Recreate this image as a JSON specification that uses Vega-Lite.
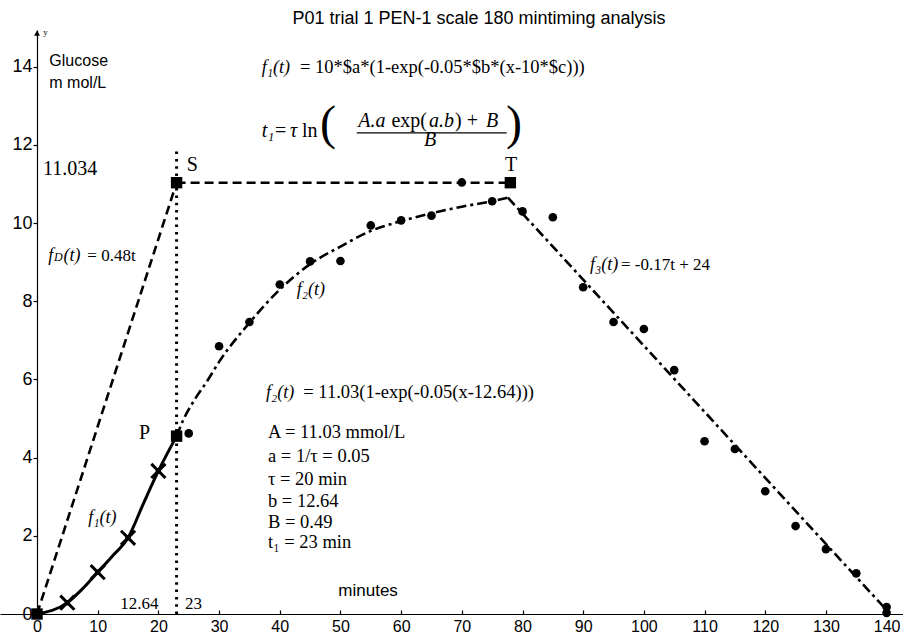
{
  "$schema": "https://vega.github.io/schema/vega-lite/v6.json",
  "width": 903,
  "height": 584,
  "autosize": {"type": "none"},
  "padding": {"left": 0, "top": 30, "right": 0, "bottom": 20},
  "background": "white",
  "config": {"view": {"stroke": null}},
  "datasets": {
    "f1curve": [
      {"t": 0, "g": 0}, {"t": 5, "g": 0.29}, {"t": 7.4, "g": 0.63}, {"t": 10, "g": 1.07}, {"t": 12.4, "g": 1.48},
      {"t": 15, "g": 1.95}, {"t": 17.6, "g": 2.85}, {"t": 20, "g": 3.66}, {"t": 23, "g": 4.55}
    ],
    "dashed": [
      {"series": "fD", "t": 0, "g": 0}, {"series": "fD", "t": 23, "g": 11.034},
      {"series": "ST", "t": 23, "g": 11.034}, {"series": "ST", "t": 78, "g": 11.034}
    ],
    "dashdot": [
      {"series": "f2", "t": 23, "g": 4.55}, {"series": "f2", "t": 24, "g": 4.93}, {"series": "f2", "t": 26, "g": 5.49},
      {"series": "f2", "t": 28, "g": 5.95}, {"series": "f2", "t": 30, "g": 6.45}, {"series": "f2", "t": 35, "g": 7.45},
      {"series": "f2", "t": 40, "g": 8.3}, {"series": "f2", "t": 45, "g": 8.95}, {"series": "f2", "t": 50, "g": 9.4},
      {"series": "f2", "t": 55, "g": 9.8}, {"series": "f2", "t": 60, "g": 10.05}, {"series": "f2", "t": 65, "g": 10.25},
      {"series": "f2", "t": 70, "g": 10.42}, {"series": "f2", "t": 75, "g": 10.56}, {"series": "f2", "t": 77.6, "g": 10.65},
      {"series": "f3", "t": 77.6, "g": 10.65}, {"series": "f3", "t": 140, "g": 0.1}
    ],
    "vline": [{"t": 23, "g": 0, "g2": 11.95}],
    "obs": [
      {"t": 25, "g": 4.62}, {"t": 30, "g": 6.85}, {"t": 35, "g": 7.47}, {"t": 40, "g": 8.43}, {"t": 45, "g": 9.02},
      {"t": 50, "g": 9.03}, {"t": 55, "g": 9.94}, {"t": 60, "g": 10.07}, {"t": 65, "g": 10.19}, {"t": 70, "g": 11.04},
      {"t": 75, "g": 10.56}, {"t": 80, "g": 10.3}, {"t": 85, "g": 10.15}, {"t": 90, "g": 8.36}, {"t": 95, "g": 7.47},
      {"t": 100, "g": 7.29}, {"t": 105, "g": 6.24}, {"t": 110, "g": 4.42}, {"t": 115, "g": 4.22}, {"t": 120, "g": 3.14},
      {"t": 125, "g": 2.25}, {"t": 130, "g": 1.66}, {"t": 135, "g": 1.04}, {"t": 140, "g": 0.18}, {"t": 140, "g": 0.03}
    ],
    "crosses": [{"t": 5, "g": 0.29}, {"t": 10, "g": 1.07}, {"t": 15, "g": 1.95}, {"t": 20, "g": 3.66}],
    "squares": [{"t": 0, "g": 0}, {"t": 23, "g": 4.55}, {"t": 23, "g": 11.034}, {"t": 78, "g": 11.034}],
    "arrow": [{"t": 0, "g": 14.86}],
    "fracbar": [{"t": 52.68, "t2": 77.39, "g": 12.31}],
    "titleText": [{"t": 72.83, "g": 15.1, "label": "P01 trial 1 PEN-1 scale 180 mintiming analysis"}],
    "bigSerif": [
      {"t": 0.99, "g": 11.24, "label": "11.034"}, {"t": 24.67, "g": 11.33, "label": "S"},
      {"t": 77.11, "g": 11.34, "label": "T"}, {"t": 16.8, "g": 4.47, "label": "P"}
    ],
    "midSerif": [
      {"t": 43.33, "g": 13.84, "label": "= 10*$a*(1-exp(-0.05*$b*(x-10*$c)))"},
      {"t": 43.88, "g": 5.53, "label": "= 11.03(1-exp(-0.05(x-12.64)))"},
      {"t": 38.06, "g": 4.49, "label": "A = 11.03 mmol/L"},
      {"t": 38.06, "g": 3.9, "label": "a = 1/τ = 0.05"},
      {"t": 38.06, "g": 3.31, "label": "τ = 20 min"},
      {"t": 38.06, "g": 2.75, "label": "b = 12.64"},
      {"t": 38.06, "g": 2.21, "label": "B = 0.49"},
      {"t": 38.06, "g": 1.7, "label": "t₁ = 23 min"}
    ],
    "smallSerif": [
      {"t": 96.23, "g": 8.8, "label": "= -0.17t + 24"}, {"t": 8.29, "g": 9.03, "label": "= 0.48t"},
      {"t": 13.73, "g": 0.14, "label": "12.64"}, {"t": 24.39, "g": 0.14, "label": "23"}
    ],
    "italicSerif": [
      {"t": 37.02, "g": 13.84, "label": "f₁(t)"}, {"t": 37.73, "g": 5.53, "label": "f₂(t)"},
      {"t": 42.79, "g": 8.17, "label": "f₂(t)"}, {"t": 8.45, "g": 2.33, "label": "f₁(t)"},
      {"t": 91.12, "g": 8.8, "label": "f₃(t)"}, {"t": 1.86, "g": 9.03, "label": "f"}, {"t": 4.37, "g": 9.03, "label": "(t)"}
    ],
    "tinyItalic": [{"t": 2.8, "g": 9.03, "label": "D"}],
    "eqItalic": [
      {"t": 37.02, "g": 12.21, "label": "t₁"}, {"t": 41.69, "g": 12.21, "label": "τ"},
      {"t": 52.94, "g": 12.46, "label": "A.a"}, {"t": 64.59, "g": 12.46, "label": "a.b"},
      {"t": 73.99, "g": 12.46, "label": "B"}, {"t": 63.77, "g": 11.97, "label": "B"}
    ],
    "eqNormal": [
      {"t": 39.22, "g": 12.21, "label": "="}, {"t": 43.66, "g": 12.21, "label": "ln"},
      {"t": 58.4, "g": 12.46, "label": "exp("}, {"t": 68.88, "g": 12.46, "label": ") +"}
    ],
    "parens": [{"t": 46.63, "g": 12.14, "label": "("}, {"t": 77.28, "g": 12.14, "label": ")"}],
    "sans": [{"t": 2.03, "g": 14.03, "label": "Glucose"}, {"t": 2.03, "g": 13.46, "label": "m mol/L"}],
    "sansBig": [{"t": 49.65, "g": 0.46, "label": "minutes"}],
    "tiny": [{"t": 1.04, "g": 14.82, "label": "y"}]
  },
  "encoding": {
    "x": {
      "field": "t", "type": "quantitative",
      "scale": {"domain": [-6.1, 142.7], "nice": false, "zero": false},
      "axis": {"values": [0, 10, 20, 30, 40, 50, 60, 70, 80, 90, 100, 110, 120, 130, 140], "title": null, "grid": false,
        "tickSize": -4, "labelPadding": 8, "labelFont": "Liberation Sans", "labelFontSize": 16, "labelColor": "black",
        "domainColor": "black", "tickColor": "black", "domainWidth": 1.2, "tickWidth": 1.2, "labelFlush": false, "labelOverlap": false}
    },
    "y": {
      "field": "g", "type": "quantitative",
      "scale": {"domain": [0, 14.94], "nice": false},
      "axis": {"values": [0, 2, 4, 6, 8, 10, 12, 14], "offset": -37, "title": null, "grid": false,
        "tickSize": 4, "labelPadding": 1, "labelFont": "Liberation Sans", "labelFontSize": 18, "labelColor": "black",
        "domainColor": "black", "tickColor": "black", "domainWidth": 1.2, "tickWidth": 1.2, "labelFlush": false, "labelOverlap": false}
    }
  },
  "layer": [
    {"data": {"name": "f1curve"}, "mark": {"type": "line", "color": "black", "strokeWidth": 3, "interpolate": "monotone"}},
    {"data": {"name": "dashed"}, "mark": {"type": "line", "color": "black", "strokeWidth": 2.6, "strokeDash": [9, 5]}, "encoding": {"detail": {"field": "series"}}},
    {"data": {"name": "dashdot"}, "mark": {"type": "line", "color": "black", "strokeWidth": 2.6, "strokeDash": [10, 4, 3, 4], "interpolate": "monotone"}, "encoding": {"detail": {"field": "series"}}},
    {"data": {"name": "vline"}, "mark": {"type": "rule", "color": "black", "strokeWidth": 3, "strokeDash": [2.5, 4.8]}, "encoding": {"y2": {"field": "g2"}}},
    {"data": {"name": "fracbar"}, "mark": {"type": "rule", "color": "black", "strokeWidth": 1.2}, "encoding": {"x2": {"field": "t2"}}},
    {"data": {"name": "obs"}, "mark": {"type": "point", "shape": "circle", "filled": true, "color": "black", "size": 75, "opacity": 1}},
    {"data": {"name": "crosses"}, "mark": {"type": "point", "shape": "M-1,-1L1,1M-1,1L1,-1", "filled": false, "stroke": "black", "strokeWidth": 3, "size": 200, "opacity": 1}},
    {"data": {"name": "crosses"}, "mark": {"type": "point", "shape": "circle", "filled": true, "color": "black", "size": 30, "opacity": 1}},
    {"data": {"name": "squares"}, "mark": {"type": "point", "shape": "square", "filled": true, "color": "black", "size": 130, "opacity": 1}},
    {"data": {"name": "arrow"}, "mark": {"type": "point", "shape": "triangle-up", "filled": true, "color": "black", "size": 35, "opacity": 1}},
    {"data": {"name": "titleText"}, "mark": {"type": "text", "font": "Liberation Sans", "fontSize": 18, "align": "center", "baseline": "alphabetic", "color": "black"}, "encoding": {"text": {"field": "label"}}},
    {"data": {"name": "bigSerif"}, "mark": {"type": "text", "font": "Liberation Serif", "fontSize": 20, "align": "left", "baseline": "alphabetic", "color": "black"}, "encoding": {"text": {"field": "label"}}},
    {"data": {"name": "midSerif"}, "mark": {"type": "text", "font": "Liberation Serif", "fontSize": 18.5, "align": "left", "baseline": "alphabetic", "color": "black"}, "encoding": {"text": {"field": "label"}}},
    {"data": {"name": "smallSerif"}, "mark": {"type": "text", "font": "Liberation Serif", "fontSize": 17, "align": "left", "baseline": "alphabetic", "color": "black"}, "encoding": {"text": {"field": "label"}}},
    {"data": {"name": "italicSerif"}, "mark": {"type": "text", "font": "Liberation Serif", "fontStyle": "italic", "fontSize": 18, "align": "left", "baseline": "alphabetic", "color": "black"}, "encoding": {"text": {"field": "label"}}},
    {"data": {"name": "tinyItalic"}, "mark": {"type": "text", "font": "Liberation Serif", "fontStyle": "italic", "fontSize": 12, "align": "left", "baseline": "alphabetic", "color": "black"}, "encoding": {"text": {"field": "label"}}},
    {"data": {"name": "eqItalic"}, "mark": {"type": "text", "font": "Liberation Serif", "fontStyle": "italic", "fontSize": 20, "align": "left", "baseline": "alphabetic", "color": "black"}, "encoding": {"text": {"field": "label"}}},
    {"data": {"name": "eqNormal"}, "mark": {"type": "text", "font": "Liberation Serif", "fontSize": 20, "align": "left", "baseline": "alphabetic", "color": "black"}, "encoding": {"text": {"field": "label"}}},
    {"data": {"name": "parens"}, "mark": {"type": "text", "font": "Liberation Serif", "fontSize": 48, "align": "left", "baseline": "alphabetic", "color": "black"}, "encoding": {"text": {"field": "label"}}},
    {"data": {"name": "sans"}, "mark": {"type": "text", "font": "Liberation Sans", "fontSize": 16, "align": "left", "baseline": "alphabetic", "color": "black"}, "encoding": {"text": {"field": "label"}}},
    {"data": {"name": "sansBig"}, "mark": {"type": "text", "font": "Liberation Sans", "fontSize": 17, "align": "left", "baseline": "alphabetic", "color": "black"}, "encoding": {"text": {"field": "label"}}},
    {"data": {"name": "tiny"}, "mark": {"type": "text", "font": "Liberation Serif", "fontSize": 9, "align": "left", "baseline": "alphabetic", "color": "black"}, "encoding": {"text": {"field": "label"}}}
  ]
}
